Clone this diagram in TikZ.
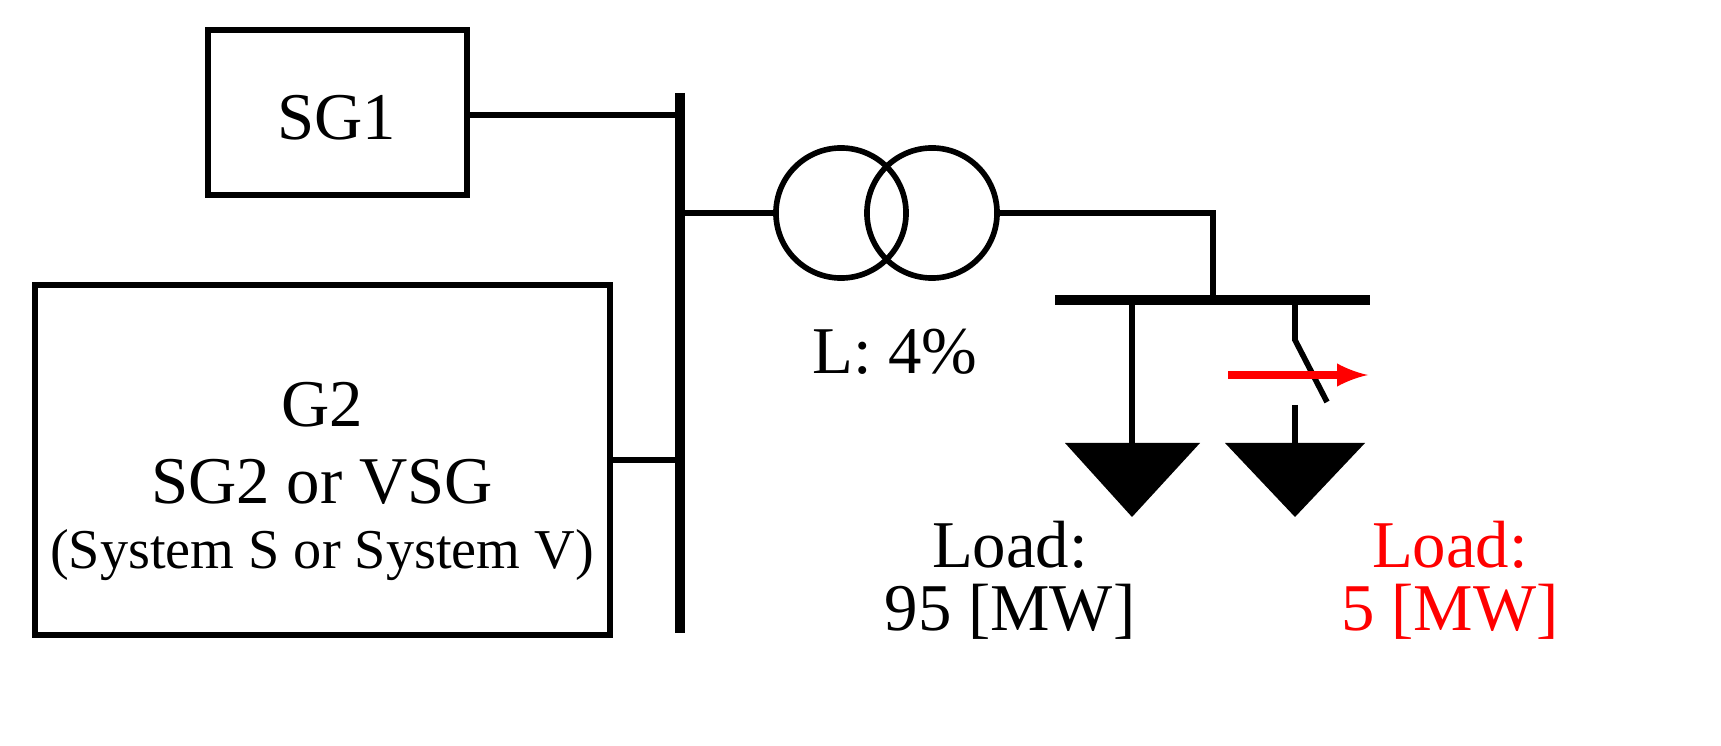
\documentclass[tikz,border=0pt]{standalone}
\usepackage{fontspec}
\setmainfont{Liberation Serif}
\begin{document}
\begin{tikzpicture}[x=0.01cm,y=-0.01cm,
  wire/.style={line width=1.6pt},
  busl/.style={line width=2.6pt},
  box/.style={draw,line width=1.6pt,inner sep=0pt},
  lbl/.style={font=\fontsize{19}{21}\selectfont,inner sep=0pt},
  tr/.style={draw,circle,line width=1.6pt,minimum size=1.3cm,inner sep=0pt}]
\useasboundingbox (0,0) rectangle (1721,746);
\node[box,minimum width=2.59cm,minimum height=1.65cm] (sg1) at (337.5,112.5) {};
\node[lbl] (sg1t) at (337,118) {SG1};
\node[box,minimum width=5.75cm,minimum height=3.5cm] (g2) at (322.5,460) {};
\node[lbl] (g2a) at (322,405) {G2};
\node[lbl] (g2b) at (322,482) {SG2 or VSG};
\node[lbl,font=\fontsize{16}{18}\selectfont] (g2c) at (322,555) {(System S or System V)};
\coordinate (b1t) at (680,93); \coordinate (b1b) at (680,633);
\draw[busl] (b1t) -- (b1b);
\coordinate (s1b) at (680,115);
\draw[wire] (sg1.east |- s1b) -- (s1b);
\coordinate (g2b1) at (680,460);
\draw[wire] (g2.east) -- (g2b1);
\node[tr] (c1) at (841,213) {};
\node[tr] (c2) at (932,213) {};
\coordinate (bt) at (680,213);
\draw[wire] (bt) -- (c1.west);
\coordinate (k) at (1213,213); \coordinate (k2) at (1213,300);
\draw[wire] (c2.east) -- (k) -- (k2);
\node[lbl] (lt) at (895,352) {L: 4\%};
\coordinate (b2l) at (1055,300); \coordinate (b2r) at (1370,300);
\draw[busl] (b2l) -- (b2r);
\coordinate (l1a) at (1132,300); \coordinate (l1b) at (1132,445);
\draw[wire] (l1a) -- (l1b);
\fill (1065,443) -- (1200,443) -- (1132,517) -- cycle;
\coordinate (sw1) at (1295,300); \coordinate (sw2) at (1295,340); \coordinate (sw3) at (1327,402);
\coordinate (sw4) at (1295,405); \coordinate (sw5) at (1295,445);
\draw[wire] (sw1) -- (sw2) -- (sw3);
\draw[wire] (sw4) -- (sw5);
\fill (1225,443) -- (1365,443) -- (1295,517) -- cycle;
\coordinate (ra) at (1228,375); \coordinate (rb) at (1368,375);
\draw[red,line width=2pt,-{latex}] (ra) -- (rb);
\node[lbl] (la) at (1010,545) {Load:};
\node[lbl] (lb) at (1010,612) {95 [MW]};
\node[lbl,red] (lc) at (1450,545) {Load:};
\node[lbl,red] (ld) at (1450,612) {5 [MW]};
\end{tikzpicture}
\end{document}
